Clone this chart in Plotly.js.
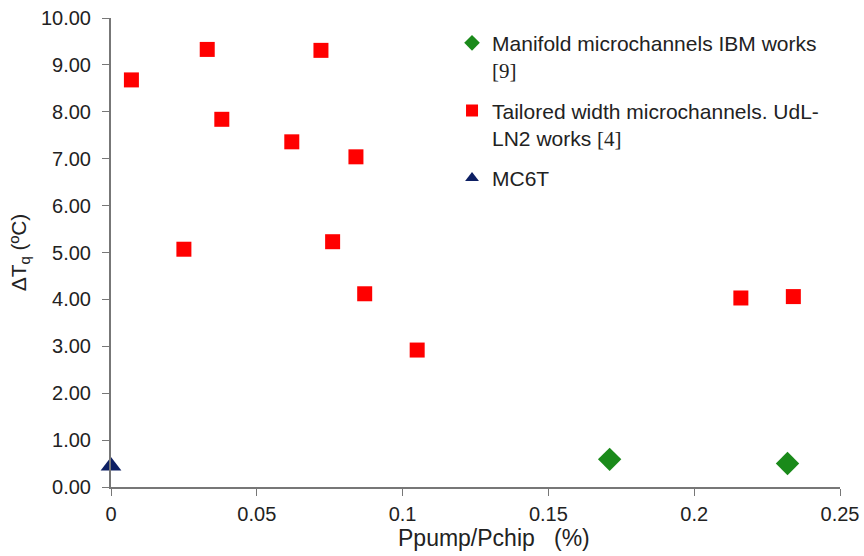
<!DOCTYPE html>
<html><head><meta charset="utf-8">
<script src="https://cdn.plot.ly/plotly-3.0.1.min.js"></script>
<style>html,body{margin:0;padding:0;background:#fff;}</style>
</head><body>
<div id="chart" style="width:864px;height:556px;"></div>
<script>
const ibmX = [0.171, 0.232];
const ibmY = [0.59, 0.50];
const udlX = [0.007, 0.033, 0.038, 0.025, 0.062, 0.072, 0.084, 0.076, 0.087, 0.105, 0.216, 0.234];
const udlY = [8.68, 9.33, 7.84, 5.07, 7.36, 9.31, 7.04, 5.23, 4.12, 2.92, 4.03, 4.06];
const mcX = [0.0];
const mcY = [0.45];
const xTicks = [0, 0.05, 0.1, 0.15, 0.2, 0.25];
const xTickText = ['0', '0.05', '0.1', '0.15', '0.2', '0.25'];
const yTicks = [0,1,2,3,4,5,6,7,8,9,10];
const xTitle = 'Ppump/Pchip\u00a0\u00a0\u00a0(%)';
const yTitle = 'ΔT<sub>q</sub> (ºC)';

const serif = '<span style="font-family:Liberation Serif">';
const traces = [
  {x: ibmX, y: ibmY, type: 'scatter', mode: 'markers', legendgroup: 'a',
   name: 'Manifold microchannels IBM works<br>' + serif + '[9]</span>',
   marker: {symbol: 'diamond', size: 18, color: '#1a8a1a'}, cliponaxis: false},
  {x: udlX, y: udlY, type: 'scatter', mode: 'markers', legendgroup: 'b',
   name: 'Tailored width microchannels. UdL-<br>LN2 works ' + serif + '[4]</span>',
   marker: {symbol: 'square', size: 15, color: '#ff0000'}, cliponaxis: false},
  {x: mcX, y: mcY, type: 'scatter', mode: 'markers', legendgroup: 'c',
   name: 'MC6T',
   marker: {symbol: 'triangle-up', size: 18, color: '#0d1f63'}, cliponaxis: false}
];
const layout = {
  width: 864, height: 556,
  margin: {l: 111, r: 24, t: 18, b: 69},
  paper_bgcolor: '#fff', plot_bgcolor: '#fff',
  font: {family: 'Liberation Sans, Arial, sans-serif', size: 20, color: '#222'},
  showlegend: true,
  legend: {x: 0.4678, y: 0.99, xanchor: 'left', yanchor: 'top', traceorder: 'grouped',
    tracegroupgap: 10, valign: 'top', itemsizing: 'constant',
    font: {size: 21, color: '#222'}, bgcolor: 'rgba(0,0,0,0)', itemwidth: 30},
  xaxis: {range: [0, 0.25], tickvals: xTicks, ticktext: xTickText, showgrid: false, zeroline: false,
    showline: true, linecolor: '#777', linewidth: 2, ticks: 'outside', ticklen: 7, tickcolor: '#777',
    ticklabelstandoff: 1},
  yaxis: {range: [0, 10], tickvals: yTicks, tickformat: '.2f', showgrid: false, zeroline: false,
    showline: true, linecolor: '#777', linewidth: 2, ticks: 'outside', ticklen: 7, tickcolor: '#777',
    ticklabelstandoff: 7,
    title: {text: yTitle, font: {size: 21}, standoff: 9}},
  annotations: [{text: xTitle, xref: 'paper', yref: 'paper', x: 0.526, y: -0.1087,
    xanchor: 'center', yanchor: 'middle', showarrow: false, font: {size: 23}}]
};
Plotly.newPlot('chart', traces, layout, {displayModeBar: false, staticPlot: true});
</script>
</body></html>
